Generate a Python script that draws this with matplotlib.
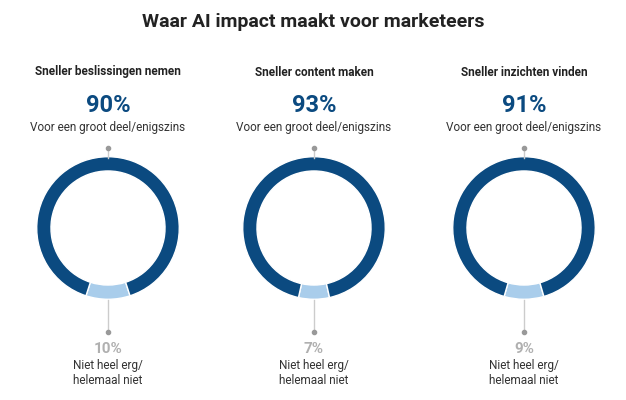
import matplotlib.pyplot as plt
from matplotlib.lines import Line2D

plt.rcParams['font.family'] = ['Roboto', 'DejaVu Sans']

titles = ["Sneller beslissingen nemen", "Sneller content maken", "Sneller inzichten vinden"]
yes_pct = [90, 93, 91]
no_pct = [10, 7, 9]
centers_x = [108, 314, 524]

dark = '#0b4a80'
light = '#a9cdeb'
grey = '#b0b0b0'

W, H = 626, 400
fig = plt.figure(figsize=(W / 100, H / 100), dpi=100)

def fx(x): return x / W
def fy(y): return 1 - y / H

fig.text(0.5, fy(22), "Waar AI impact maakt voor marketeers", ha='center', va='center',
         fontsize=14, fontweight='bold', color='#222222')

R = 72
cy = 228
for t, yes, no, cx in zip(titles, yes_pct, no_pct, centers_x):
    fig.text(fx(cx), fy(72), t, ha='center', va='center', fontsize=8.5, fontweight='bold', color='#222222')
    fig.text(fx(cx), fy(105), f"{yes}%", ha='center', va='center', fontsize=17, fontweight='bold', color=dark)
    fig.text(fx(cx), fy(128), "Voor een groot deel/enigszins", ha='center', va='center', fontsize=8.5, color='#333333')

    ax = fig.add_axes([fx(cx - R), fy(cy + R), 2 * R / W, 2 * R / H])
    ax.pie([no, yes], colors=[light, dark], startangle=270 - no * 3.6 / 2,
           wedgeprops=dict(width=0.2, edgecolor='white', linewidth=1))
    ax.set_xlim(-1.01, 1.01)
    ax.set_ylim(-1.01, 1.01)
    ax.set_aspect('equal')
    ax.axis('off')

    fig.add_artist(Line2D([fx(cx), fx(cx)], [fy(148), fy(158)], color='#cccccc', lw=1))
    fig.add_artist(Line2D([fx(cx)], [fy(148)], marker='o', ms=3, color='#999999'))
    fig.add_artist(Line2D([fx(cx), fx(cx)], [fy(300), fy(332)], color='#cccccc', lw=1))
    fig.add_artist(Line2D([fx(cx)], [fy(332)], marker='o', ms=3, color='#999999'))

    fig.text(fx(cx), fy(349), f"{no}%", ha='center', va='center', fontsize=11, fontweight='bold', color=grey)
    fig.text(fx(cx), fy(366), "Niet heel erg/", ha='center', va='center', fontsize=8.5, color='#333333')
    fig.text(fx(cx), fy(381), "helemaal niet", ha='center', va='center', fontsize=8.5, color='#333333')

fig.savefig('out.png', dpi=100)
